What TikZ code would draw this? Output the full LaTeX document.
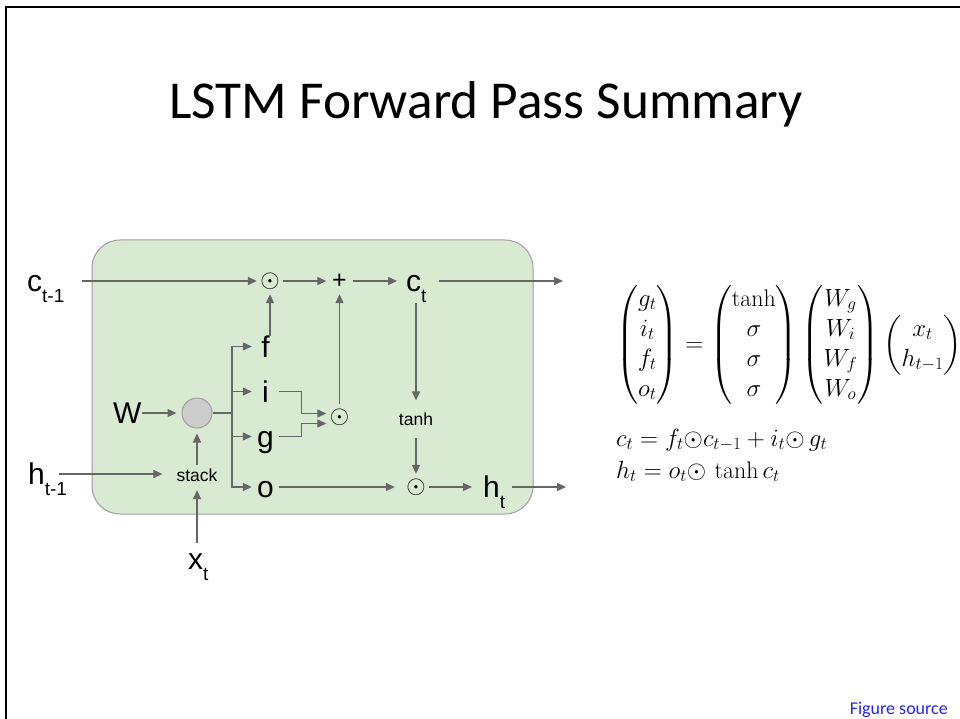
\documentclass[tikz,border=0pt]{standalone}
\usepackage{fontspec}
\usepackage{amsmath}
\usetikzlibrary{arrows.meta}
\newfontfamily\slidefont{Carlito}
\newfontfamily\drawfont{Liberation Sans}
\definecolor{cellgreen}{HTML}{D9EAD3}
\definecolor{cellborder}{HTML}{9E9E9E}
\definecolor{wiregray}{HTML}{666666}
\definecolor{mixgray}{HTML}{CCCCCC}
\definecolor{linkblue}{RGB}{30,40,240}
\newcommand{\lsub}[1]{\raisebox{-11pt}{\fontsize{19}{19}\selectfont #1}}
\newcommand{\odotsym}{{\fontsize{23}{23}\selectfont$\odot$}}

\begin{document}
\begin{tikzpicture}[x=1pt, y=-1pt,
  wire/.style={draw=wiregray, line width=1.3pt},
  arr/.style={wire, -{Triangle[length=9pt,width=8pt]}},
  lbl/.style={font=\drawfont\fontsize{30}{30}\selectfont, text height=21pt, text depth=0pt, inner sep=0pt},
  gate/.style={lbl, minimum width=27pt},
  op/.style={circle, inner sep=0pt, minimum size=26pt},
  small/.style={font=\drawfont\fontsize{17.5}{17.5}\selectfont, inner sep=0pt},
  eq/.style={font=\fontsize{24}{30}\selectfont, inner sep=0pt}]
  \useasboundingbox (0,0) rectangle (960,719);
  % Slide frame
  \draw[line width=2.5pt] (6,719) -- (6,7) -- (960,7);
  % Title
  \node[font=\slidefont\fontsize{53.3}{60}\selectfont, anchor=base] (title) at (486,119) {LSTM Forward Pass Summary};
  % Cell
  \draw[draw=cellborder, fill=cellgreen, line width=1pt, rounded corners=28pt] (92,240) rectangle (533,514);
  % Cell state row
  \node[lbl, anchor=west] (cprev) at (27,281) {c\lsub{t-1}};
  \node[op] (prod1) at (270,281) {\odotsym};
  \node[op, font=\drawfont\fontsize{25}{25}\selectfont] (plus) at (339.5,281) {+};
  \node[lbl, anchor=west] (ct) at (406,281) {c\lsub{t}};
  \coordinate (cout) at (563,281);
  % Inputs
  \node[lbl, anchor=west] (wlbl) at (113,413) {W};
  \node[circle, draw=cellborder, fill=mixgray, line width=1pt, minimum size=30pt, inner sep=0pt] (mix) at (197,413) {};
  \node[small, inner xsep=14pt, inner ysep=3.5pt] (stackn) at (197,475) {stack};
  \node[lbl, anchor=west] (hprev) at (28,474) {h\lsub{t-1}};
  \node[lbl, anchor=west, outer ysep=6pt] (xt) at (188,559) {x\lsub{t}};
  \coordinate (split) at (232,413);
  % Gates
  \node[gate] (fgate) at (265.5,346.5) {f};
  \node[gate] (igate) at (265.5,391.5) {i};
  \node[gate] (ggate) at (265.5,436.5) {g};
  \node[gate] (ogate) at (265.5,487) {o};
  % Products
  \node[op] (prod2) at (339.5,417.5) {\odotsym};
  \node[small, inner ysep=12pt] (tanhn) at (416,419) {tanh};
  \node[op] (prod3) at (416,487) {\odotsym};
  \node[lbl, anchor=west] (ht) at (483,487) {h\lsub{t}};
  \coordinate (hout) at (566,487);
  % Connectors
  \draw[arr, shorten <=17pt] (cprev) -- (prod1);
  \draw[arr] (prod1) -- (plus);
  \draw[arr, shorten >=9pt] (plus) -- (ct);
  \draw[arr, shorten <=12pt] (ct) -- (cout);
  \draw[arr] (fgate.north -| prod1) -- (prod1);
  \draw[arr] (prod2) -- (plus);
  \draw[arr, shorten <=11pt] (ct.south -| tanhn) -- (tanhn);
  \draw[arr] (tanhn) -- (prod3);
  \draw[arr, shorten >=5pt] (wlbl) -- (mix);
  \draw[wire] (mix) -- (split);
  \draw[arr] (split) |- (fgate);
  \draw[arr] (split) |- (igate);
  \draw[arr] (split) |- (ggate);
  \draw[arr] (split) |- (ogate);
  \draw[arr] (igate.east) -| ([xshift=-25pt,yshift=4pt]prod2.west) -- ([yshift=4pt]prod2.west);
  \draw[arr] (ggate.east) -| ([xshift=-25pt,yshift=-6pt]prod2.west) -- ([yshift=-6pt]prod2.west);
  \draw[arr, shorten >=8pt] (ogate) -- (prod3);
  \draw[arr, shorten >=11pt] (prod3) -- (ht);
  \draw[arr, shorten <=7pt] (ht) -- (hout);
  \draw[arr] ([xshift=31pt]hprev.west) -- (stackn.west |- hprev);
  \draw[arr, shorten >=5pt] (stackn) -- (mix);
  \draw[arr, shorten >=5pt] (xt.north -| stackn) -- (stackn);
  % Equations
  \node[eq, anchor=west] (gates) at (616,345) {$\begin{pmatrix} g_t\\ i_t\\ f_t\\ o_t \end{pmatrix} = \begin{pmatrix} \tanh\\ \sigma\\ \sigma\\ \sigma \end{pmatrix} \begin{pmatrix} W_g\\ W_i\\ W_f\\ W_o \end{pmatrix} \begin{pmatrix} x_t\\ h_{t-1} \end{pmatrix}$};
  \node[eq, anchor=base west] (celleq) at (616,446) {$c_t = f_t{\odot}c_{t-1} + i_t{\odot}\,g_t$};
  \node[eq, anchor=base west] (hiddeneq) at (616,478) {$h_t = o_t{\odot}\,\tanh c_t$};
  % Source
  \node[font=\slidefont\fontsize{18}{18}\selectfont, text=linkblue, anchor=base east, inner sep=0pt] (source) at (948,714) {Figure source};
\end{tikzpicture}
\end{document}
